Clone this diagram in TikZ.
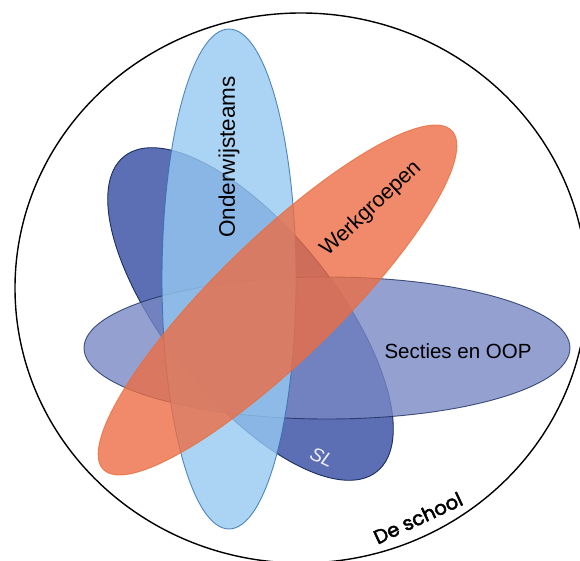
\documentclass[tikz,border=0pt]{standalone}
\usepackage{fontspec}
\setmainfont{Liberation Sans}
\newfontfamily\schoolfont[FakeBold=2.5]{Poppins}
\definecolor{otblue}{RGB}{149,200,241}
\definecolor{otedge}{RGB}{47,110,173}
\definecolor{sldark}{RGB}{92,110,180}
\definecolor{navyedge}{RGB}{27,47,94}
\definecolor{sectfill}{RGB}{120,136,196}
\definecolor{wgfill}{RGB}{236,109,69}
\definecolor{wgedge}{RGB}{232,110,60}
\begin{document}
\begin{tikzpicture}[x=1pt,y=-1pt,
  blob/.style={line width=0.9pt},
  lbl/.style={inner sep=0pt, text=black}]
\useasboundingbox (0,0) rectangle (580,561);
\clip (0,0) rectangle (580,561);
% outer school circle
\draw[line width=1.4pt, black] (301,288) ellipse [x radius=286pt, y radius=275pt];
% SL (bottom layer)
\filldraw[blob, fill=sldark, draw=navyedge, shift={(250.5,314)}, rotate=-51.25]
  (0,0) ellipse [x radius=202pt, y radius=85pt];
% Secties en OOP
\filldraw[blob, fill=sectfill, draw=navyedge, opacity=0.8]
  (327,348) ellipse [x radius=243pt, y radius=71pt];
% Onderwijsteams
\filldraw[blob, fill=otblue, draw=otedge, opacity=0.8]
  (229,279) ellipse [x radius=67pt, y radius=250pt];
% Werkgroepen
\filldraw[blob, fill=wgfill, draw=wgedge, opacity=0.8, shift={(277.5,300)}, rotate=44.2]
  (0,0) ellipse [x radius=243pt, y radius=61pt];
% labels
\node[lbl, font=\fontsize{22.5}{26}\selectfont, rotate=90] (ot) at (229,157) {Onderwijsteams};
\node[lbl, font=\fontsize{21.5}{25}\selectfont, rotate=43] (wg) at (371,209) {Werkgroepen};
\node[lbl, font=\fontsize{20.5}{24}\selectfont] (sec) at (458,351) {Secties en OOP};
\node[inner sep=0pt, font=\fontsize{19}{22}\selectfont\itshape, text=white!94!blue, rotate=-25] (sl) at (322,457) {SL};
\node[inner sep=0pt, font=\schoolfont\fontsize{19.5}{23}\selectfont, rotate=25] (school) at (418,518) {De school};
\end{tikzpicture}
\end{document}
